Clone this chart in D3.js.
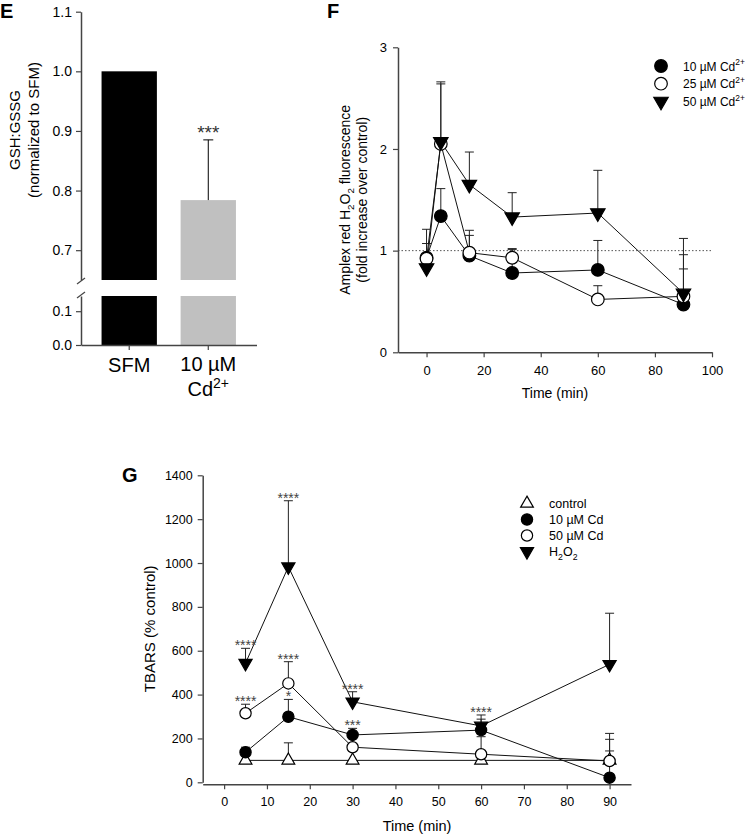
<!DOCTYPE html>
<html>
<head>
<meta charset="utf-8">
<script src="https://cdn.jsdelivr.net/npm/d3@7"></script>
<style>
  body { margin: 0; background: #fff; }
  text { font-family: "Liberation Sans", Arial, Helvetica, sans-serif; }
</style>
</head>
<body>
<script>
// ---- panel E data ----
const barCats = ["SFM", "10 µM Cd2+"];
const barVals = [1.0, 0.784];
const barErrTop = [null, 0.885];
const barColors = ["#000000", "#c0c0c0"];
const eTicksUpper = [0.7, 0.8, 0.9, 1.0, 1.1];
const eTicksLower = [0.0, 0.1];

// ---- panel F data ----
const fTimes = [0, 5, 15, 30, 60, 90];
const fCd10 = [0.93, 1.34, 0.95, 0.78, 0.81, 0.47];
const fCd10Err = [1.07, 1.61, 1.15, 1.01, 1.10, 0.82];
const fCd25 = [0.92, 2.05, 0.98, 0.93, 0.52, 0.55];
const fCd25Err = [1.21, 2.64, 1.20, 1.02, 0.655, 0.96];
const fCd50 = [0.83, 2.07, 1.65, 1.33, 1.37, 0.58];
const fCd50Err = [0.95, 2.66, 1.97, 1.57, 1.79, 1.12];
const fXTicks = [0, 20, 40, 60, 80, 100];
const fYTicks = [0, 1, 2, 3];

// ---- panel G data ----
const gTimes = [5, 15, 30, 60, 90];
const gControl = [100, 100, 100, 100, 100];
const gControlErr = [100, 180, 100, 100, 196];
const gCd10 = [137, 299, 216, 238, 21];
const gCd10Err = [160, 378, 246, 288, 143];
const gCd50 = [315, 451, 160, 128, 97];
const gCd50Err = [356, 550, 175, 208, 223];
const gH2O2 = [543, 983, 367, 257, 538];
const gH2O2Err = [611, 1284, 413, 307, 771];
const gXTicks = [0, 10, 20, 30, 40, 50, 60, 70, 80, 90];
const gYTicks = [0, 200, 400, 600, 800, 1000, 1200, 1400];
// significance marks: [time, value the mark sits on, text]
const gStars = [
  [5, 611, "****"], [5, 356, "****"],
  [15, 1284, "****"], [15, 550, "****"], [15, 378, "*"],
  [30, 413, "****"], [30, 246, "***"],
  [60, 307, "****"]
];

const axisColor = "#444";
const W = 748, H = 834;

const svg = d3.select("body").append("svg")
  .attr("width", W).attr("height", H)
  .style("background", "#fff");

// text with super/subscripts
function rich(sel, parts, size) {
  let shift = 0;
  parts.forEach(([t, k]) => {
    const target = k === "sup" ? -0.42 * size : k === "sub" ? 0.3 * size : 0;
    sel.append("tspan")
      .attr("dy", target - shift)
      .attr("font-size", k ? size * 0.7 : size)
      .text(t);
    shift = target;
  });
  return sel;
}

function styleAxis(g, size) {
  g.select(".domain").attr("stroke", axisColor).attr("stroke-width", 1.5);
  g.selectAll(".tick line").attr("stroke", axisColor).attr("stroke-width", 1.2);
  g.selectAll(".tick text").attr("font-size", size).attr("fill", "#000")
    .attr("font-family", '"Liberation Sans", Arial, sans-serif');
}

// ================= Panel E =================
const eX = d3.scaleBand().domain(barCats).range([81, 256.5])
  .paddingInner(0.3).paddingOuter(0.26);
const eYUp = d3.scaleLinear().domain([0.65, 1.1]).range([280, 11.7]);
const eYLo = d3.scaleLinear().domain([0, 0.145]).range([345, 296]);

const eG = svg.append("g");

eG.selectAll("rect.up").data(barCats).join("rect")
  .attr("x", d => eX(d)).attr("width", eX.bandwidth())
  .attr("y", (d, i) => eYUp(barVals[i]))
  .attr("height", (d, i) => eYUp(0.65) - eYUp(barVals[i]))
  .attr("fill", (d, i) => barColors[i]);
eG.selectAll("rect.lo").data(barCats).join("rect")
  .attr("x", d => eX(d)).attr("width", eX.bandwidth())
  .attr("y", eYLo(0.145))
  .attr("height", eYLo(0) - eYLo(0.145))
  .attr("fill", (d, i) => barColors[i]);

barCats.forEach((c, i) => {
  if (barErrTop[i] == null) return;
  const cx = eX(c) + eX.bandwidth() / 2;
  eG.append("line").attr("x1", cx).attr("x2", cx)
    .attr("y1", eYUp(barVals[i])).attr("y2", eYUp(barErrTop[i]))
    .attr("stroke", "#000").attr("stroke-width", 1);
  eG.append("line").attr("x1", cx - 5).attr("x2", cx + 5)
    .attr("y1", eYUp(barErrTop[i])).attr("y2", eYUp(barErrTop[i]))
    .attr("stroke", "#000").attr("stroke-width", 1);
  eG.append("text").attr("x", cx).attr("y", eYUp(barErrTop[i]) - 1)
    .attr("text-anchor", "middle").attr("font-size", 19).attr("fill", "#333")
    .text("***");
});

eG.append("g").attr("transform", "translate(81,0)")
  .call(d3.axisLeft(eYUp).tickValues(eTicksUpper).tickFormat(d3.format(".1f"))
    .tickSize(5).tickSizeOuter(0).tickPadding(4))
  .call(g => styleAxis(g, 14));
eG.append("g").attr("transform", "translate(81,0)")
  .call(d3.axisLeft(eYLo).tickValues(eTicksLower).tickFormat(d3.format(".1f"))
    .tickSize(5).tickSizeOuter(0).tickPadding(4))
  .call(g => styleAxis(g, 14));

// break marks
[eYUp(0.65) + 1, eYLo(0.145) - 1].forEach(y => {
  eG.append("line").attr("x1", 77).attr("x2", 85)
    .attr("y1", y + 3).attr("y2", y - 3)
    .attr("stroke", axisColor).attr("stroke-width", 1.2);
});

eG.append("g").attr("transform", "translate(0,345)")
  .call(d3.axisBottom(eX).tickSize(5).tickSizeOuter(0).tickFormat(""))
  .call(g => styleAxis(g, 14));

eG.append("text").attr("text-anchor", "middle")
  .attr("x", eX(barCats[0]) + eX.bandwidth() / 2).attr("y", 372)
  .attr("font-size", 20).text("SFM");
const cx1 = eX(barCats[1]) + eX.bandwidth() / 2;
eG.append("text").attr("text-anchor", "middle").attr("x", cx1).attr("y", 371)
  .attr("font-size", 20).text("10 µM");
rich(eG.append("text").attr("text-anchor", "middle").attr("x", cx1).attr("y", 396),
  [["Cd", null], ["2+", "sup"]], 20);

const eYl = eG.append("text").attr("text-anchor", "middle")
  .attr("transform", "translate(20,130) rotate(-90)").attr("font-size", 15);
eYl.append("tspan").attr("x", 0).attr("dy", 0).text("GSH:GSSG");
eYl.append("tspan").attr("x", 0).attr("dy", 19).text("(normalized to SFM)");

svg.append("text").attr("x", 0).attr("y", 18).attr("font-size", 20)
  .attr("font-weight", "bold").text("E");

// ================= shared series drawer =================
function drawSeries(g, x, y, times, vals, errs, opt) {
  g.append("path").datum(times.map((t, i) => [t, vals[i]]))
    .attr("fill", "none").attr("stroke", "#111").attr("stroke-width", 1)
    .attr("d", d3.line().x(d => x(d[0])).y(d => y(d[1])));
  const eb = g.append("g");
  times.forEach((t, i) => {
    if (errs[i] <= vals[i]) return;
    eb.append("line").attr("x1", x(t)).attr("x2", x(t))
      .attr("y1", y(vals[i])).attr("y2", y(errs[i]))
      .attr("stroke", "#222").attr("stroke-width", 1);
    eb.append("line").attr("x1", x(t) - 4.5).attr("x2", x(t) + 4.5)
      .attr("y1", y(errs[i])).attr("y2", y(errs[i]))
      .attr("stroke", "#222").attr("stroke-width", 1);
  });
  return () => {
    g.selectAll(null).data(times.map((t, i) => [t, vals[i]])).join("path")
      .attr("transform", d => `translate(${x(d[0])},${y(d[1])}) rotate(${opt.rot || 0})`)
      .attr("d", d3.symbol().type(opt.type).size(opt.size))
      .attr("fill", opt.fill).attr("stroke", "#000").attr("stroke-width", 1.2);
  };
}

function legendEntry(g, x, y, opt, parts, size) {
  g.append("path")
    .attr("transform", `translate(${x},${y}) rotate(${opt.rot || 0})`)
    .attr("d", d3.symbol().type(opt.type).size(opt.size))
    .attr("fill", opt.fill).attr("stroke", "#000").attr("stroke-width", 1.2);
  rich(g.append("text").attr("x", x + 22).attr("y", y + 4.5), parts, size);
}

// ================= Panel F =================
const fX = d3.scaleLinear().domain([-10, 100]).range([398, 712]);
const fY = d3.scaleLinear().domain([0, 3]).range([352.3, 47.3]);
const fG = svg.append("g");

fG.append("line").attr("x1", fX(-10)).attr("x2", fX(100))
  .attr("y1", fY(1)).attr("y2", fY(1))
  .attr("stroke", "#555").attr("stroke-width", 1).attr("stroke-dasharray", "1.5,2");

const fSym10 = { type: d3.symbolCircle, size: 125, fill: "#000" };
const fSym25 = { type: d3.symbolCircle, size: 125, fill: "#fff" };
const fSym50 = { type: d3.symbolTriangle, size: 90, fill: "#000", rot: 180 };

const fm3 = drawSeries(fG, fX, fY, fTimes, fCd50, fCd50Err, fSym50);
const fm1 = drawSeries(fG, fX, fY, fTimes, fCd10, fCd10Err, fSym10);
const fm2 = drawSeries(fG, fX, fY, fTimes, fCd25, fCd25Err, fSym25);
fm1(); fm2(); fm3();

fG.append("g").attr("transform", `translate(398,0)`)
  .call(d3.axisLeft(fY).tickValues(fYTicks).tickFormat(d3.format("d"))
    .tickSize(5).tickSizeOuter(0).tickPadding(6))
  .call(g => styleAxis(g, 13));
fG.append("g").attr("transform", `translate(0,${fY(0)})`)
  .call(d3.axisBottom(fX).tickValues(fXTicks).tickFormat(d3.format("d"))
    .tickSize(5).tickSizeOuter(0).tickPadding(8))
  .call(g => styleAxis(g, 13));

fG.append("text").attr("x", (fX(-10) + fX(100)) / 2).attr("y", 398)
  .attr("text-anchor", "middle").attr("font-size", 14).text("Time (min)");

const fYl1 = fG.append("text").attr("text-anchor", "middle")
  .attr("transform", `translate(350,${(fY(0) + fY(3)) / 2}) rotate(-90)`);
rich(fYl1, [["Amplex red H", null], ["2", "sub"], ["O", null], ["2", "sub"], [" fluorescence", null]], 14);
fG.append("text").attr("text-anchor", "middle").attr("font-size", 14)
  .attr("transform", `translate(367,${(fY(0) + fY(3)) / 2}) rotate(-90)`)
  .text("(fold increase over control)");

const fLeg = fG.append("g");
const fLegItems = [
  [fSym10, [["10 µM Cd", null], ["2+", "sup"]]],
  [fSym25, [["25 µM Cd", null], ["2+", "sup"]]],
  [fSym50, [["50 µM Cd", null], ["2+", "sup"]]]
];
fLegItems.forEach((it, i) => legendEntry(fLeg, 661, 66 + i * 17.7, it[0], it[1], 12));

svg.append("text").attr("x", 327).attr("y", 18).attr("font-size", 20)
  .attr("font-weight", "bold").text("F");

// ================= Panel G =================
const gX = d3.scaleLinear().domain([-5, 95]).range([202.7, 631]);
const gY = d3.scaleLinear().domain([0, 1400]).range([782.3, 475.3]);
const gG = svg.append("g");

const gSymC = { type: d3.symbolTriangle, size: 70, fill: "#fff" };
const gSym10 = { type: d3.symbolCircle, size: 100, fill: "#000" };
const gSym50 = { type: d3.symbolCircle, size: 100, fill: "#fff" };
const gSymH = { type: d3.symbolTriangle, size: 75, fill: "#000", rot: 180 };

const gm4 = drawSeries(gG, gX, gY, gTimes, gH2O2, gH2O2Err, gSymH);
const gm1 = drawSeries(gG, gX, gY, gTimes, gControl, gControlErr, gSymC);
const gm3 = drawSeries(gG, gX, gY, gTimes, gCd50, gCd50Err, gSym50);
const gm2 = drawSeries(gG, gX, gY, gTimes, gCd10, gCd10Err, gSym10);
gm1(); gm3(); gm2(); gm4();

gG.selectAll("text.star").data(gStars).join("text")
  .attr("x", d => gX(d[0])).attr("y", d => gY(d[1]) + 2)
  .attr("text-anchor", "middle").attr("font-size", 14).attr("fill", "#444")
  .text(d => d[2]);

gG.append("g").attr("transform", `translate(202.7,0)`)
  .call(d3.axisLeft(gY).tickValues(gYTicks).tickFormat(d3.format("d"))
    .tickSize(5).tickSizeOuter(0).tickPadding(5))
  .call(g => styleAxis(g, 12.5));
gG.append("g").attr("transform", `translate(0,${gY(0) + 2})`)
  .call(d3.axisBottom(gX).tickValues(gXTicks).tickFormat(d3.format("d"))
    .tickSize(5).tickSizeOuter(0).tickPadding(8))
  .call(g => styleAxis(g, 12.5));

gG.append("text").attr("x", 417).attr("y", 831)
  .attr("text-anchor", "middle").attr("font-size", 14.5).text("Time (min)");
gG.append("text").attr("text-anchor", "middle").attr("font-size", 15)
  .attr("transform", `translate(155,${(gY(0) + gY(1400)) / 2}) rotate(-90)`)
  .text("TBARS (% control)");

const gLeg = gG.append("g");
const gLegItems = [
  [gSymC, [["control", null]]],
  [gSym10, [["10 µM Cd", null]]],
  [gSym50, [["50 µM Cd", null]]],
  [gSymH, [["H", null], ["2", "sub"], ["O", null], ["2", "sub"]]]
];
gLegItems.forEach((it, i) => legendEntry(gLeg, 527, 503.5 + i * 16, it[0], it[1], 12.5));

svg.append("text").attr("x", 122).attr("y", 482).attr("font-size", 20)
  .attr("font-weight", "bold").text("G");
</script>
</body>
</html>
